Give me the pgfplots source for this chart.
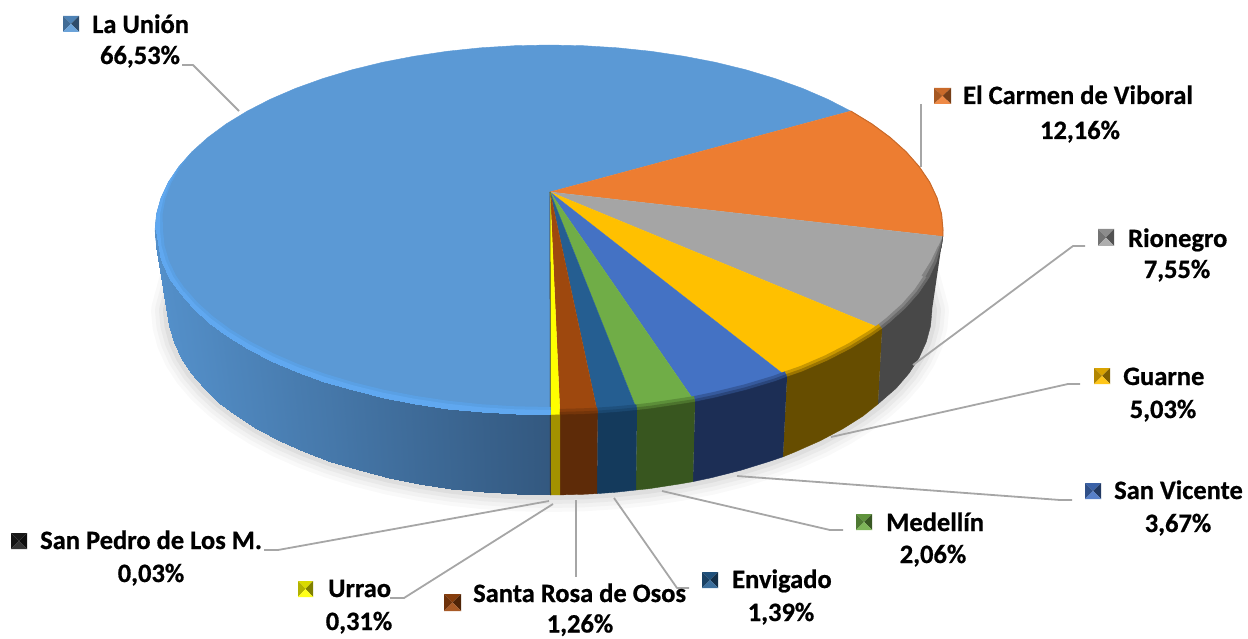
\documentclass[border=0pt]{standalone}
\usepackage{pgfplots}
\pgfplotsset{compat=1.18}
\usepackage{fontspec}
\setmainfont{Carlito}[BoldFeatures={FakeBold=0.7}]
\definecolor{lu}{HTML}{5B99D5}
\definecolor{bla}{HTML}{5AA0E4}
\definecolor{blb}{HTML}{60A8F0}
\definecolor{lul}{HTML}{5490CA}
\definecolor{lud}{HTML}{33587F}
\definecolor{car}{HTML}{ED7D31}
\definecolor{rio}{HTML}{A5A5A5}
\definecolor{rid}{HTML}{484848}
\definecolor{gua}{HTML}{FFC000}
\definecolor{gud}{HTML}{664D00}
\definecolor{sv}{HTML}{4472C4}
\definecolor{svd}{HTML}{1C2E55}
\definecolor{med}{HTML}{70AD47}
\definecolor{med2}{HTML}{38561F}
\definecolor{env}{HTML}{255E91}
\definecolor{end}{HTML}{143A5C}
\definecolor{sr}{HTML}{9E480E}
\definecolor{srd}{HTML}{5E2B08}
\definecolor{ura}{HTML}{FFFF00}
\definecolor{urd}{HTML}{A39200}
\definecolor{spd}{HTML}{3A3A3A}
\definecolor{spk}{HTML}{1C1C1C}
\definecolor{lead}{HTML}{A6A6A6}
\definecolor{sha}{HTML}{F9F9F9}
\definecolor{shb}{HTML}{F2F2F2}
\definecolor{shc}{HTML}{E9E9E9}
\definecolor{shd}{HTML}{DEDEDE}
\newcommand\poly[2]{\addplot[fill=#1,draw=#1,line width=0.4pt,line join=round] coordinates {#2};}
\newcommand\bevel[3]{%
\addplot[draw=#1!65!#2,line width=12pt] coordinates {#3};
\addplot[draw=#1!35!#2,line width=6pt] coordinates {#3};}
\newcommand\leader[1]{\addplot[draw=lead,line width=1.8pt,line join=round] coordinates {#1};}
\newcommand\shadowline[2]{\addplot[draw=#1,line width=#2pt,line join=round] coordinates {(919,262) (932,310) (930.5,326.1) (926.2,342.1) (919,357.9) (909,373.3) (896.2,388.2) (880.8,402.5) (862.9,416.1) (842.6,428.9) (820.1,440.8) (795.5,451.7) (769.1,461.5) (741,470.2) (711.4,477.7) (680.6,483.8) (648.9,488.7) (616.3,492.2) (583.3,494.3) (550,495) (516.7,494.3) (483.7,492.2) (451.1,488.7) (419.4,483.8) (388.6,477.7) (359,470.2) (330.9,461.5) (304.5,451.7) (279.9,440.8) (257.4,428.9) (237.1,416.1) (219.2,402.5) (203.8,388.2) (191,373.3) (181,357.9) (173.8,342.1) (169.5,326.1) (168,310) (181,262)};}
\newcommand\key[7]{%
\addplot[fill=#7!85!black,draw=none] coordinates {(#1,#4) (#2,#4) (#3,#6)};
\addplot[fill=#7!70!black,draw=none] coordinates {(#1,#4) (#1,#5) (#3,#6)};
\addplot[fill=#7!50!black,draw=none] coordinates {(#2,#4) (#2,#5) (#3,#6)};
\addplot[fill=#7!90!white,draw=none] coordinates {(#1,#5) (#2,#5) (#3,#6)};}
\newcommand\lab[6]{%
\node[anchor=base west,inner sep=0pt,font=\fontsize{26.5}{26.5}\selectfont\bfseries] at (axis cs:#1,#2) {#3};
\node[anchor=base,inner sep=0pt,font=\fontsize{26.5}{26.5}\selectfont\bfseries] at (axis cs:#4,#5) {#6};}
\begin{document}
\begin{tikzpicture}
\begin{axis}[hide axis,scale only axis,width=1248pt,height=639pt,xmin=0,xmax=1248,ymin=0,ymax=639,y dir=reverse,
  colormap={wall}{color=(lud) color=(lul)},point meta min=0,point meta max=100,
  every axis plot/.append style={no markers,forget plot,solid}]
\path (axis cs:0,0) rectangle (axis cs:1248,639);
% shadow
\shadowline{sha}{34}
\shadowline{shb}{26}
\shadowline{shc}{18}
\shadowline{shd}{10}
% top face
\poly{lu}{(550,192) (550.5,415) (514.6,414.3) (480.6,412.2) (447,408.7) (414.3,403.8) (382.5,397.7) (352,390.2) (323,381.5) (295.7,371.7) (270.4,360.8) (247.2,348.9) (226.2,336.1) (207.8,322.5) (191.9,308.2) (178.8,293.3) (168.4,277.9) (161,262.1) (156.5,246.1) (155,230) (156.5,213.9) (161,197.9) (168.4,182.1) (178.8,166.7) (191.9,151.8) (207.8,137.5) (226.2,123.9) (247.2,111.1) (270.4,99.2) (295.7,88.3) (323,78.5) (352,69.8) (382.5,62.3) (414.3,56.2) (447,51.3) (480.6,47.8) (514.6,45.7) (549,45) (583.4,45.7) (617.4,47.8) (651,51.3) (683.7,56.2) (715.5,62.3) (746,69.8) (775,78.5) (802.3,88.3) (827.6,99.2) (850.8,111.1)}
\poly{car}{(550,192) (850.8,111.1) (871.8,123.9) (890.2,137.5) (906.1,151.8) (919.2,166.7) (929.6,182.1) (937,197.9) (941.5,213.9) (943,230) (942.8,236.5)}
\poly{rio}{(550,192) (942.8,236.5) (941.5,246.1) (937,262.1) (929.6,277.9) (919.2,293.3) (906.1,308.2) (890.2,322.5) (882,329)}
\poly{gua}{(550,192) (882,329) (871.8,336.1) (850.8,348.9) (827.6,360.8) (802.3,371.7) (787,377)}
\poly{sv}{(550,192) (787,377) (775,381.5) (746,390.2) (715.5,397.7) (695,402)}
\poly{med}{(550,192) (695,402) (683.7,403.8) (651,408.7) (637,410.3)}
\poly{env}{(550,192) (637,410.3) (617.4,412.2) (597.7,413.6)}
\poly{sr}{(550,192) (597.7,413.6) (583.4,414.3) (560,414.9)}
\poly{ura}{(550,192) (560,414.9) (550.5,415)}
\addplot[draw=spd,line width=0.8pt] coordinates {(550,192) (550.3,415)};
% dark edge of Carmen
\addplot[draw=car!85!black,line width=1pt] coordinates {(850.8,111.1) (871.8,123.9) (890.2,137.5) (906.1,151.8) (919.2,166.7) (929.6,182.1) (937,197.9) (941.5,213.9) (943,230) (942.8,236.5)};
% bevels
\addplot[draw=bla,line width=16pt] coordinates {(550.5,415) (514.6,414.3) (480.6,412.2) (447,408.7) (414.3,403.8) (382.5,397.7) (352,390.2) (323,381.5) (295.7,371.7) (270.4,360.8) (247.2,348.9) (226.2,336.1) (207.8,322.5) (191.9,308.2) (178.8,293.3)};
\addplot[draw=blb,line width=10pt] coordinates {(550.5,415) (514.6,414.3) (480.6,412.2) (447,408.7) (414.3,403.8) (382.5,397.7) (352,390.2) (323,381.5) (295.7,371.7) (270.4,360.8) (247.2,348.9) (226.2,336.1) (207.8,322.5) (191.9,308.2) (178.8,293.3)};
\addplot[fill=bla,draw=none] coordinates {(178.8,293.3) (168.4,277.9) (161,262.1) (156.5,246.1) (155,230) (156.5,213.9) (161,197.9) (168.4,182.1) (178.8,166.7) (191.9,151.8) (180.2,167.2) (171.3,182.9) (165.4,198.7) (162.5,214.4) (163,230) (164.5,245.4) (168.9,260.7) (176.1,275.8) (186.3,290.6)};
\addplot[fill=blb,draw=none] coordinates {(178.8,293.3) (168.4,277.9) (161,262.1) (156.5,246.1) (155,230) (156.5,213.9) (161,197.9) (168.4,182.1) (178.8,166.7) (169.9,182.5) (163.5,198.3) (160,214.2) (160,230) (161.5,245.7) (165.9,261) (173.2,276.6) (183.5,291.6)};
\bevel{rio}{rid}{(929.6,277.9) (919.2,293.3) (906.1,308.2) (890.2,322.5) (882,329)}
\poly{rio!65!rid}{(942.8,236.5) (941.5,246.1) (937,262.1) (929.6,277.9) (921.9,275.8) (931.1,261.1) (938.5,245.8)}
\poly{rio!35!rid}{(942.8,236.5) (941.5,246.1) (937,262.1) (929.6,277.9) (925.7,276.9) (934,261.6) (940,246)}
\bevel{gua}{gud}{(882,329) (871.8,336.1) (850.8,348.9) (827.6,360.8) (802.3,371.7) (787,377)}
\bevel{sv}{svd}{(787,377) (775,381.5) (746,390.2) (715.5,397.7) (695,402)}
\bevel{med}{med2}{(695,402) (683.7,403.8) (651,408.7) (637,410.3)}
\bevel{env}{end}{(637,410.3) (617.4,412.2) (597.7,413.6)}
\bevel{sr}{srd}{(597.7,413.6) (583.4,414.3) (560,414.9)}
% walls
\poly{rid}{(942.8,236.5) (941.5,246.1) (937,262.1) (929.6,277.9) (919.2,293.3) (906.1,308.2) (890.2,322.5) (882,329) (878,404) (896.2,388.2) (909,373.3) (919,357.9) (926.2,342.1) (930.5,326.1) (932,310)}
\poly{gud}{(882,329) (871.8,336.1) (850.8,348.9) (827.6,360.8) (802.3,371.7) (787,377) (783,456.8) (795.5,451.7) (820.1,440.8) (842.6,428.9) (862.9,416.1) (878,404)}
\poly{svd}{(787,377) (775,381.5) (746,390.2) (715.5,397.7) (695,402) (693,481.6) (711.4,477.7) (741,470.2) (769.1,461.5) (783,456.8)}
\poly{med2}{(695,402) (683.7,403.8) (651,408.7) (637,410.3) (636,490) (648.9,488.7) (680.6,483.8) (693,481.6)}
\poly{end}{(637,410.3) (617.4,412.2) (597.7,413.6) (597,493.6) (616.3,492.2) (636,490)}
\poly{srd}{(597.7,413.6) (583.4,414.3) (560,414.9) (560,494.9) (583.3,494.3) (597,493.6)}
\poly{urd}{(560,414.9) (550.5,415) (550.5,495) (560,494.9)}
% La Union wall
\addplot[patch,patch type=rectangle,shader=interp,point meta=\thisrow{c}] table {
x y c
155 230 100
156.5 246.1 99
169.5 326.1 99
168 310 100
156.5 246.1 99
161 262.1 98
173.8 342.1 98
169.5 326.1 99
161 262.1 98
168.4 277.9 96
181 357.9 96
173.8 342.1 98
168.4 277.9 96
178.8 293.3 94
191 373.3 94
181 357.9 96
178.8 293.3 94
191.9 308.2 91
203.8 388.2 91
191 373.3 94
191.9 308.2 91
207.8 322.5 87
219.2 402.5 87
203.8 388.2 91
207.8 322.5 87
226.2 336.1 82
237.1 416.1 82
219.2 402.5 87
226.2 336.1 82
247.2 348.9 77
257.4 428.9 77
237.1 416.1 82
247.2 348.9 77
270.4 360.8 71
279.9 440.8 71
257.4 428.9 77
270.4 360.8 71
295.7 371.7 64
304.5 451.7 64
279.9 440.8 71
295.7 371.7 64
323 381.5 58
330.9 461.5 58
304.5 451.7 64
323 381.5 58
352 390.2 50
359 470.2 50
330.9 461.5 58
352 390.2 50
382.5 397.7 42
388.6 477.7 42
359 470.2 50
382.5 397.7 42
414.3 403.8 34
419.4 483.8 34
388.6 477.7 42
414.3 403.8 34
447 408.7 26
451.1 488.7 26
419.4 483.8 34
447 408.7 26
480.6 412.2 17
483.7 492.2 17
451.1 488.7 26
480.6 412.2 17
514.6 414.3 9
516.7 494.3 9
483.7 492.2 17
514.6 414.3 9
550.5 415 0
550.5 495 0
516.7 494.3 9
};
\addplot[draw=spd,line width=1pt] coordinates {(550.3,415) (550.5,495)};
% leaders
\leader{(182,65) (193,65) (239,111)}
\leader{(921,104) (921,167)}
\leader{(1085,246) (1073,246) (913,365)}
\leader{(1080,384) (1068,384) (831,437)}
\leader{(1072,500) (1060,500) (737,476)}
\leader{(843,530) (830,530) (662,491)}
\leader{(689,588) (677,588) (614,498)}
\leader{(576,500) (576,577)}
\leader{(390,598) (404,598) (553,504)}
\leader{(264,550) (278,550) (549,501)}
% keys
\key{63}{79}{71}{16}{32}{24}{lu}
\key{934}{951}{942.5}{88}{104}{96}{car}
\key{1098}{1114}{1106}{229}{246}{237.5}{rio}
\key{1094}{1110}{1102}{368}{384}{376}{gua}
\key{1085}{1101}{1093}{483}{499}{491}{sv}
\key{856}{872}{864}{514}{530}{522}{med}
\key{702}{718}{710}{572}{588}{580}{env}
\key{444}{461}{452.5}{594}{611}{602.5}{sr}
\key{298}{313}{305.5}{581}{597}{589}{ura}
\key{11}{27}{19}{533}{549}{541}{spk}
% labels
\lab{92}{33}{La Unión}{140}{64}{66,53\%}
\lab{963}{104}{El Carmen de Viboral}{1080}{139}{12,16\%}
\lab{1128}{247}{Rionegro}{1177}{278}{7,55\%}
\lab{1123}{385}{Guarne}{1163}{418}{5,03\%}
\lab{1114}{499}{San Vicente}{1178}{532}{3,67\%}
\lab{886}{531}{Medellín}{933}{563}{2,06\%}
\lab{732}{588}{Envigado}{781}{621}{1,39\%}
\lab{473}{602}{Santa Rosa de Osos}{580}{632.5}{1,26\%}
\lab{328}{597}{Urrao}{359}{630}{0,31\%}
\lab{40}{549}{San Pedro de Los M.}{151}{582}{0,03\%}
\end{axis}
\end{tikzpicture}
\end{document}
